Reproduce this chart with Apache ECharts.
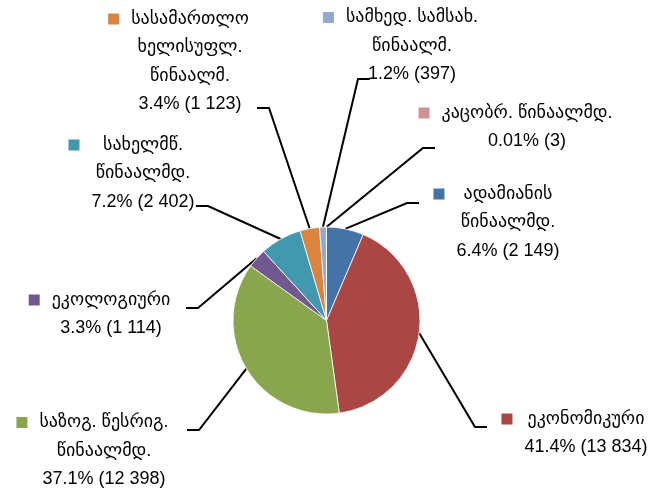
<!DOCTYPE html>
<html>
<head>
<meta charset="utf-8">
<script src="https://cdn.jsdelivr.net/npm/echarts@6/dist/echarts.min.js"></script>
<style>
  html, body { margin: 0; padding: 0; background: #ffffff; }
  #chart { width: 656px; height: 494px; }
</style>
</head>
<body>
<div id="chart"></div>
<script>
// Categories, each split into the lines it is printed on
const categories = [
  ['ადამიანის', 'წინაალმდ.'],
  ['ეკონომიკური'],
  ['საზოგ. წესრიგ.', 'წინაალმდ.'],
  ['ეკოლოგიური'],
  ['სახელმწ.', 'წინაალმდ.'],
  ['სასამართლო', 'ხელისუფლ.', 'წინაალმ.'],
  ['სამხედ. სამსახ.', 'წინაალმ.'],
  ['კაცობრ. წინაალმდ.']
];
// Number of cases per category
const values = [2149, 13834, 12398, 1114, 2402, 1123, 397, 3];

const colors = ['#4572A7', '#AA4643', '#89A54E', '#71588F', '#4198AF', '#DB843D', '#93A9CF', '#D19392'];

// Label placement: centre of the text column, middle of the first line,
// and the outer end of the leader line
const labelSpots = [
  { cx: 508, cy: 194, end: [419, 203] },
  { cx: 586, cy: 419, end: [487, 427] },
  { cx: 104, cy: 422.5, end: [187, 430] },
  { cx: 111, cy: 300, end: [186, 308] },
  { cx: 143, cy: 145, end: [196, 206] },
  { cx: 190, cy: 19, end: [257, 108] },
  { cx: 412, cy: 17.5, end: [370, 79] },
  { cx: 527, cy: 113, end: [435, 148] }
];

const LINE_H = 28.5;
const KEY_W = 11;
const KEY_GAP = 12;
const FONT = "'Liberation Sans', 'DejaVu Sans', sans-serif";

const total = values.reduce((a, b) => a + b, 0);

function fmtPercent(v) {
  const p = v / total * 100;
  return (p < 0.1 ? p.toFixed(2) : p.toFixed(1)) + '%';
}
function fmtCount(v) {
  return String(v).replace(/\B(?=(\d{3})+(?!\d))/g, ' ');
}

const rich = {
  pad: { width: KEY_W + KEY_GAP, align: 'left', lineHeight: LINE_H, fontSize: 18 },
  gap: { width: KEY_GAP, align: 'left', lineHeight: LINE_H, fontSize: 18 },
  t: { align: 'center', fontSize: 18, lineHeight: LINE_H, color: '#000000', fontFamily: FONT }
};
colors.forEach((c, i) => {
  rich['sq' + i] = { width: KEY_W, height: KEY_W, backgroundColor: c, align: 'left', lineHeight: LINE_H };
});

const chart = echarts.init(document.getElementById('chart'), null, { renderer: 'canvas' });

chart.setOption({
  backgroundColor: '#ffffff',
  animation: false,
  series: [{
    type: 'pie',
    center: [326.5, 320.5],
    radius: 93.5,
    startAngle: 90,
    clockwise: true,
    avoidLabelOverlap: false,
    emphasis: { disabled: true },
    color: colors,
    itemStyle: { borderColor: '#ffffff', borderWidth: 0.8 },
    data: values.map((v, i) => ({ name: categories[i].join(' '), value: v })),
    label: {
      show: true,
      position: 'outside',
      fontFamily: FONT,
      fontSize: 18,
      lineHeight: LINE_H,
      color: '#000000',
      formatter: function (p) {
        const i = p.dataIndex;
        const lines = categories[i].concat([fmtPercent(values[i]) + ' (' + fmtCount(values[i]) + ')']);
        return lines.map((s, k) => (k === 0 ? '{sq' + i + '| }{gap| }' : '{pad| }') + '{t|' + s + '}').join('\n');
      },
      rich: rich
    },
    labelLine: {
      show: true,
      smooth: false,
      lineStyle: { color: '#000000', width: 2 }
    },
    labelLayout: function (params) {
      const spot = labelSpots[params.dataIndex];
      const w = params.labelRect.width;
      const arc = params.labelLinePoints[0];
      const dir = spot.end[0] > arc[0] ? 1 : -1;
      return {
        x: spot.cx - (w + KEY_W + KEY_GAP) / 2,
        y: spot.cy - LINE_H / 2,
        align: 'left',
        verticalAlign: 'top',
        labelLinePoints: [
          [arc[0], arc[1]],
          [spot.end[0] - dir * 12, spot.end[1]],
          [spot.end[0], spot.end[1]]
        ]
      };
    }
  }]
});
</script>
</body>
</html>
